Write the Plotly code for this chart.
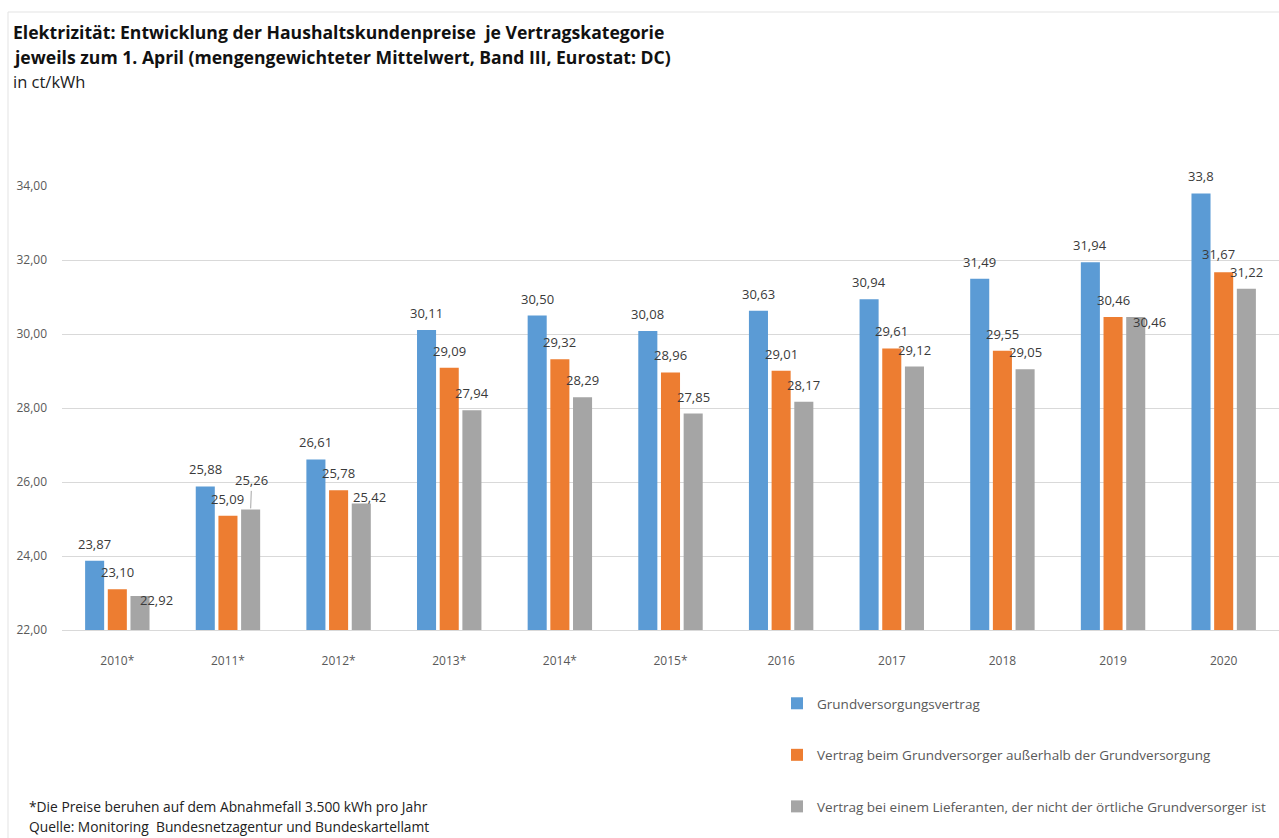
import plotly.graph_objects as go

# --- data (ct/kWh, jeweils zum 1. April) ---
years = ["2010*", "2011*", "2012*", "2013*", "2014*", "2015*",
         "2016", "2017", "2018", "2019", "2020"]
grundversorgung = [23.87, 25.88, 26.61, 30.11, 30.50, 30.08, 30.63, 30.94, 31.49, 31.94, 33.8]
grundversorger_ausserhalb = [23.10, 25.09, 25.78, 29.09, 29.32, 28.96, 29.01, 29.61, 29.55, 30.46, 31.67]
anderer_lieferant = [22.92, 25.26, 25.42, 27.94, 28.29, 27.85, 28.17, 29.12, 29.05, 30.46, 31.22]
label_texts = [
    ["23,87", "25,88", "26,61", "30,11", "30,50", "30,08", "30,63", "30,94", "31,49", "31,94", "33,8"],
    ["23,10", "25,09", "25,78", "29,09", "29,32", "28,96", "29,01", "29,61", "29,55", "30,46", "31,67"],
    ["22,92", "25,26", "25,42", "27,94", "28,29", "27,85", "28,17", "29,12", "29,05", "30,46", "31,22"],
]
series_names = [
    "Grundversorgungsvertrag",
    "Vertrag beim Grundversorger außerhalb der Grundversorgung",
    "Vertrag bei einem Lieferanten, der nicht der örtliche Grundversorger ist",
]
series_values = [grundversorgung, grundversorger_ausserhalb, anderer_lieferant]
colors = ["#5B9BD5", "#ED7D31", "#A5A5A5"]

# --- geometry of the canvas ---
W, H = 1279, 838
M_L, M_R, M_T, M_B = 62, 0, 186, 208
PW, PH = W - M_L - M_R, H - M_T - M_B
BARGAP, BARGROUPGAP = 0.385, 0.16
FONT = "Open Sans"


def px_x(px):
    return (px - M_L) / PW


def px_y(py):
    return (H - M_B - py) / PH


# manual nudges for crowded value labels: (series, year index) -> (dx px, dy px, arrow)
label_nudge = {
    (2, 0): (16, -21, False),
    (2, 1): (0, 0, True),
    (2, 2): (8, -11, False),
    (2, 9): (14, -22, False),
    (1, 10): (-5, 1, False),
}

fig = go.Figure()
for k, (name, vals, col) in enumerate(zip(series_names, series_values, colors)):
    fig.add_trace(go.Bar(
        x=years, y=vals, name=name, marker=dict(color=col, line=dict(width=0)),
        legendgroup=f"g{k}", hoverinfo="x+y",
    ))

# value labels above the bars
slot = (1 - BARGAP) / 3
label_font = dict(family=FONT, size=13, color="#3A3A3A")
annotations = []
for k, vals in enumerate(series_values):
    for i, v in enumerate(vals):
        dx, dy, arrow = label_nudge.get((k, i), (0, 0, False))
        xpos = i + (k - 1) * slot
        if arrow:
            annotations.append(dict(
                x=xpos, y=v, xref="x", yref="y", text=label_texts[k][i],
                showarrow=True, arrowhead=0, arrowwidth=1, arrowcolor="#A6A6A6",
                ax=1, ay=-29, standoff=1, font=label_font,
            ))
        else:
            annotations.append(dict(
                x=xpos, y=v, xref="x", yref="y", text=label_texts[k][i],
                showarrow=False, xanchor="center", yanchor="middle",
                xshift=dx, yshift=17 + dy, font=label_font,
            ))

# title block and footnote
title_font = dict(family=FONT, size=17.6, color="#111111")
annotations += [
    dict(x=px_x(11), y=px_y(32), xref="paper", yref="paper", xanchor="left", yanchor="middle",
         showarrow=False,
         text="<b>Elektrizität: Entwicklung der Haushaltskundenpreise  je Vertragskategorie</b>",
         font=title_font),
    dict(x=px_x(11), y=px_y(57), xref="paper", yref="paper", xanchor="left", yanchor="middle",
         showarrow=False,
         text="<b>jeweils zum 1. April (mengengewichteter Mittelwert, Band III, Eurostat: DC)</b>",
         font=title_font),
    dict(x=px_x(11), y=px_y(82), xref="paper", yref="paper", xanchor="left", yanchor="middle",
         showarrow=False, text="in ct/kWh",
         font=dict(family=FONT, size=16.5, color="#222222")),
    dict(x=px_x(27), y=px_y(806), xref="paper", yref="paper", xanchor="left", yanchor="middle",
         showarrow=False, text="*Die Preise beruhen auf dem Abnahmefall 3.500 kWh pro Jahr",
         font=dict(family=FONT, size=13.8, color="#222222")),
    dict(x=px_x(27), y=px_y(826), xref="paper", yref="paper", xanchor="left", yanchor="middle",
         showarrow=False, text="Quelle: Monitoring  Bundesnetzagentur und Bundeskartellamt",
         font=dict(family=FONT, size=13.8, color="#222222")),
]

# light frame along the top and left edge
shapes = [
    dict(type="line", xref="paper", yref="paper", x0=px_x(8), x1=px_x(W), y0=px_y(12), y1=px_y(12),
         line=dict(color="#E3E3E3", width=1)),
    dict(type="line", xref="paper", yref="paper", x0=px_x(8), x1=px_x(8), y0=px_y(12), y1=px_y(H),
         line=dict(color="#E3E3E3", width=1)),
]

fig.update_layout(
    width=W, height=H,
    margin=dict(l=M_L, r=M_R, t=M_T, b=M_B, autoexpand=False),
    paper_bgcolor="white", plot_bgcolor="white",
    separators=",.",
    barmode="group", bargap=BARGAP, bargroupgap=BARGROUPGAP,
    font=dict(family=FONT, color="#595959"),
    showlegend=True,
    legend=dict(
        x=px_x(777), y=px_y(688), xanchor="left", yanchor="top",
        orientation="v", traceorder="grouped", tracegroupgap=31,
        font=dict(family=FONT, size=13.5, color="#595959"),
        bgcolor="rgba(0,0,0,0)",
    ),
    annotations=annotations,
    shapes=shapes,
    xaxis=dict(
        type="category", showgrid=False, showline=True, linecolor="#D9D9D9", linewidth=1,
        ticks="", ticklabelstandoff=20,
        tickfont=dict(family=FONT, size=12, color="#595959"),
    ),
    yaxis=dict(
        range=[22, 34], tick0=22, dtick=2, tickformat=".2f",
        showgrid=True, gridcolor="#D9D9D9", gridwidth=1, zeroline=False, showline=False,
        ticks="", ticklabelstandoff=14,
        tickfont=dict(family=FONT, size=12, color="#595959"),
    ),
)

fig.write_html("out.html")
